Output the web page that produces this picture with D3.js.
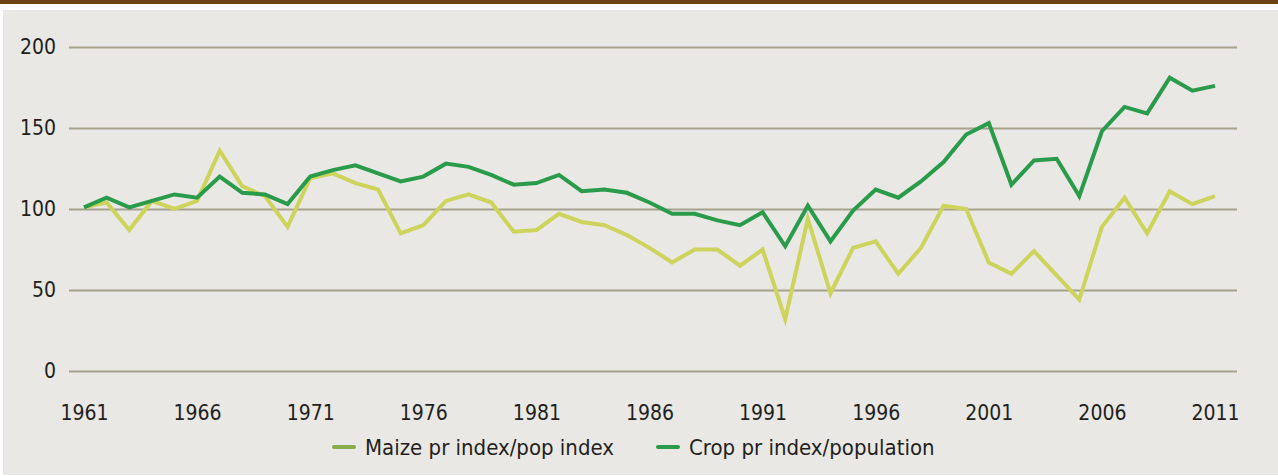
<!DOCTYPE html>
<html>
<head>
<meta charset="utf-8">
<script src="https://cdn.jsdelivr.net/npm/d3@7"></script>
<style>
  body { margin: 0; background: #fff; }
  svg { display: block; }
  text { font-family: "DejaVu Sans Condensed", "DejaVu Sans", sans-serif; font-stretch: condensed; fill: #231f20; }
</style>
</head>
<body>
<div id="vis"></div>
<script>
var years = d3.range(1961, 2012);
var yTicks = [0, 50, 100, 150, 200];
var xTicks = [1961, 1966, 1971, 1976, 1981, 1986, 1991, 1996, 2001, 2006, 2011];

var maize = [101, 104, 87, 105, 100, 105, 136, 114, 108, 89,
    119, 122, 116, 112, 85, 90, 105, 109, 104, 86,
    87, 97, 92, 90, 84, 76, 67, 75, 75, 65,
    75, 32, 94, 48, 76, 80, 60, 76, 102, 100,
    67, 60, 74, 59, 44, 89, 107, 85, 111, 103, 108];

var crop = [101, 107, 101, 105, 109, 107, 120, 110, 109, 103,
    120, 124, 127, 122, 117, 120, 128, 126, 121, 115,
    116, 121, 111, 112, 110, 104, 97, 97, 93, 90,
    98, 77, 102, 80, 99, 112, 107, 117, 129, 146,
    153, 115, 130, 131, 108, 148, 163, 159, 181, 173, 176];

var seriesNames = ["Maize pr index/pop index", "Crop pr index/population"];

var W = 1278, H = 476;
var margin = { top: 47, right: 41, bottom: 105, left: 69 },
    width = W - margin.left - margin.right,
    height = H - margin.top - margin.bottom;

var svg = d3.select("#vis")
    .append("svg")
    .attr("width", W)
    .attr("height", H);

// frame: brown strip on top, grey panel
svg.append("rect").attr("x", 0).attr("y", 0).attr("width", W).attr("height", 4).attr("fill", "#6b4216");
svg.append("rect").attr("x", 3).attr("y", 10).attr("width", W - 3).attr("height", H - 11).attr("fill", "#e9e8e4");

var g = svg.append("g")
    .attr("transform", "translate(" + margin.left + "," + margin.top + ")");

var x = d3.scaleLinear().domain([1961, 2011]).range([15, width - 22]);
var y = d3.scaleLinear().domain([0, 200]).range([height, 0]);

// y grid + labels
var yAxis = d3.axisLeft(y).tickValues(yTicks).tickSize(-width).tickFormat(d3.format("d"));
g.append("g")
    .attr("class", "myYaxis")
    .call(yAxis)
    .call(function (a) {
        a.select(".domain").remove();
        a.selectAll(".tick line").attr("stroke", "#a6a28e").attr("stroke-width", 2);
        a.selectAll(".tick text")
            .attr("x", -13)
            .attr("font-size", 21)
            .style("font-family", null)
            .attr("fill", "#231f20");
    });

// x labels
var xAxis = d3.axisBottom(x).tickValues(xTicks).tickSize(0).tickFormat(d3.format("d"));
g.append("g")
    .attr("class", "myXaxis")
    .attr("transform", "translate(0," + height + ")")
    .call(xAxis)
    .call(function (a) {
        a.select(".domain").remove();
        a.selectAll(".tick text")
            .attr("y", 34)
            .attr("font-size", 21)
            .attr("fill", "#231f20");
    });
svg.selectAll(".myXaxis, .myYaxis").attr("font-family", null);

var line = d3.line()
    .x(function (d, i) { return x(years[i]); })
    .y(function (d) { return y(d); });

g.append("path")
    .datum(maize)
    .attr("d", line)
    .attr("fill", "none")
    .attr("stroke", "#cdd45c")
    .attr("stroke-width", 4)
    .attr("stroke-linejoin", "miter");

g.append("path")
    .datum(crop)
    .attr("d", line)
    .attr("fill", "none")
    .attr("stroke", "#2a9b4a")
    .attr("stroke-width", 4)
    .attr("stroke-linejoin", "miter");

// legend
var legendColors = ["#8aab4b", "#2a9b4a"];
var legendX = [334, 658];
var legend = svg.append("g").attr("class", "legend");
seriesNames.forEach(function (name, i) {
    var lg = legend.append("g").attr("transform", "translate(" + legendX[i] + ",447)");
    lg.append("line")
        .attr("x1", 0).attr("x2", 20)
        .attr("y1", 0).attr("y2", 0)
        .attr("stroke", legendColors[i])
        .attr("stroke-width", 4)
        .attr("stroke-linecap", "round");
    lg.append("text")
        .attr("x", 31)
        .attr("y", 0)
        .attr("dy", "0.35em")
        .attr("font-size", 22)
        .text(name);
});
</script>
</body>
</html>
